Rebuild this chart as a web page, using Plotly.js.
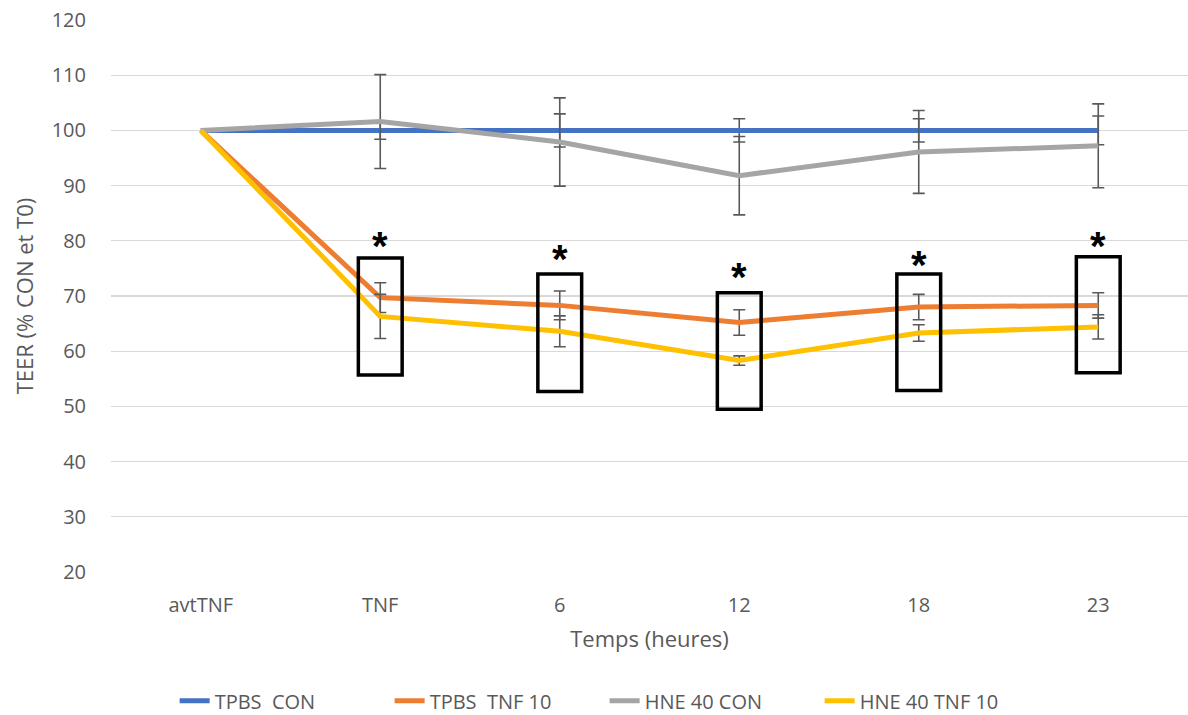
<!DOCTYPE html>
<html>
<head>
<meta charset="utf-8">
<script src="https://cdn.plot.ly/plotly-3.0.1.min.js"></script>
<style>html,body{margin:0;padding:0;background:#fff;}#chart{width:1188px;height:715px;}</style>
</head>
<body>
<div id="chart"></div>
<script>
// ---- data ----
var categories = ["avtTNF", "TNF", "6", "12", "18", "23"];
var seriesNames = ["TPBS\u00a0\u00a0CON", "TPBS\u00a0\u00a0TNF 10", "HNE 40 CON", "HNE 40 TNF 10"];
var tpbsCon    = [100, 100, 100, 100, 100, 100];
var tpbsTnf10  = [100, 69.7, 68.3, 65.2, 68.0, 68.3];
var hne40Con   = [100, 101.6, 97.9, 91.8, 96.1, 97.2];
var hne40Tnf10 = [100, 66.3, 63.6, 58.3, 63.3, 64.4];
var errTpbsCon    = [null, 1.6, 3.0, 2.1, 2.1, 2.6];
var errTpbsTnf10  = [null, 2.7, 2.6, 2.3, 2.3, 2.3];
var errHne40Con   = [null, 8.5, 8.0, 7.1, 7.5, 7.6];
var errHne40Tnf10 = [null, 4.0, 2.8, 0.85, 1.5, 2.2];
// significance markers (boxes and asterisks), per category TNF..23
var sigCats   = ["TNF", "6", "12", "18", "23"];
var sigTop    = [76.9, 74.0, 70.6, 74.0, 77.1];
var sigBottom = [55.7, 52.7, 49.5, 52.9, 56.1];
var sigStarY  = [80.5, 78.2, 74.9, 77.1, 80.5];

var colors = ["#4472C4", "#ED7D31", "#A5A5A5", "#FFC000"];
var allVals = [tpbsCon, tpbsTnf10, hne40Con, hne40Tnf10];
var allErr  = [errTpbsCon, errTpbsTnf10, errHne40Con, errHne40Tnf10];

var traces = allVals.map(function (vals, i) {
  return {
    type: "scatter", mode: "lines",
    x: categories, y: vals, name: seriesNames[i],
    line: {color: colors[i], width: 5, shape: "linear"},
    error_y: {
      type: "data", visible: true,
      array: allErr[i].map(function (v) { return v === null ? NaN : v; }),
      color: "#595959", thickness: 1.6, width: 6
    },
    hoverinfo: "x+y+name"
  };
});

var shapes = sigCats.map(function (c, k) {
  var idx = categories.indexOf(c);
  return {
    type: "rect", xref: "x", yref: "y",
    x0: idx - 0.122, x1: idx + 0.122,
    y0: sigBottom[k], y1: sigTop[k],
    line: {color: "#000000", width: 3.5},
    fillcolor: "rgba(0,0,0,0)", layer: "above"
  };
});

var annotations = sigCats.map(function (c, k) {
  return {
    xref: "x", yref: "y", x: categories.indexOf(c), y: sigStarY[k],
    text: "*", showarrow: false, yanchor: "middle", yshift: -8,
    font: {family: "Liberation Sans, Arial, sans-serif", size: 40, color: "#000000", weight: "bold"}
  };
});

var layout = {
  width: 1188, height: 715,
  margin: {l: 111, r: 0, t: 20, b: 143},
  paper_bgcolor: "#ffffff", plot_bgcolor: "#ffffff",
  font: {family: "Open Sans, sans-serif", color: "#595959", size: 20},
  showlegend: true,
  legend: {
    orientation: "h",
    xref: "container", x: 0.147, xanchor: "left",
    yref: "container", y: 0.02, yanchor: "middle",
    font: {size: 20, color: "#595959"},
    entrywidth: 170, entrywidthmode: "pixels",
    itemwidth: 30, tracegroupgap: 0
  },
  xaxis: {
    type: "category", range: [-0.5, 5.5], automargin: false,
    showgrid: false, zeroline: false, showline: false,
    ticks: "outside", ticklen: 15, tickcolor: "rgba(0,0,0,0)",
    tickfont: {size: 20, color: "#595959"},
    title: {text: "Temps (heures)", font: {size: 22, color: "#595959"}, standoff: 14},
    fixedrange: true
  },
  yaxis: {
    range: [20, 120], dtick: 10, tick0: 20, automargin: false,
    showgrid: true, gridcolor: "#D9D9D9", gridwidth: 1.2,
    zeroline: false, showline: false,
    ticks: "outside", ticklen: 20, tickcolor: "rgba(0,0,0,0)",
    tickfont: {size: 20, color: "#595959"},
    title: {text: "TEER (% CON et T0)", font: {size: 22, color: "#595959"}, standoff: 11},
    fixedrange: true
  },
  shapes: shapes,
  annotations: annotations
};

Plotly.newPlot("chart", traces, layout, {displayModeBar: false, staticPlot: true});
</script>
</body>
</html>
